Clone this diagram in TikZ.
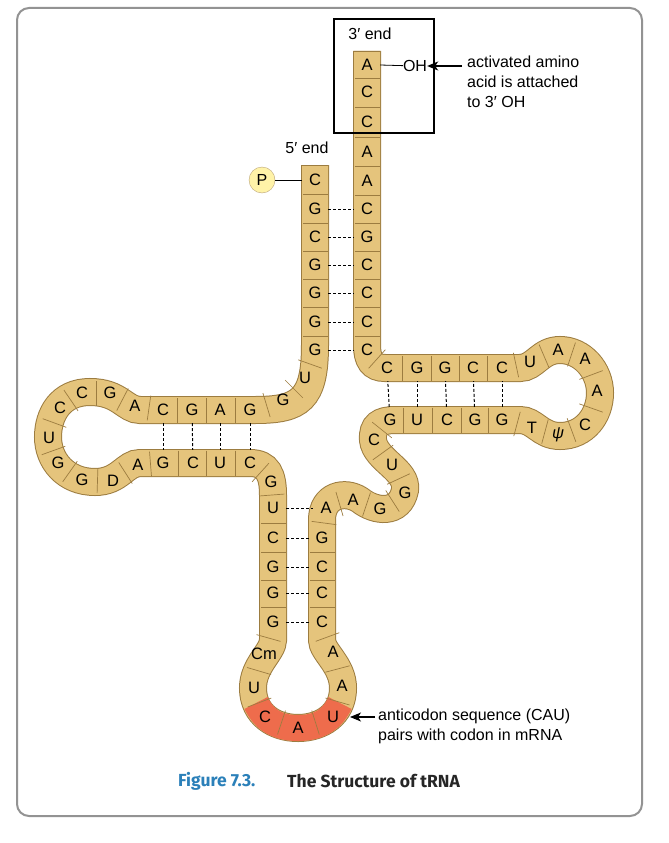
\documentclass[tikz,border=0pt]{standalone}
\usepackage{fontspec}
\setmainfont{Liberation Sans}
\newfontfamily\capfont{Fira Sans}
\usetikzlibrary{calc,arrows.meta}
\definecolor{tan}{HTML}{E5C47C}
\definecolor{tanedge}{HTML}{9C7C40}
\definecolor{anti}{HTML}{EE6C4C}
\definecolor{pfill}{HTML}{FFF3A8}
\definecolor{capblue}{HTML}{2B80B9}
\newcommand{\prm}{′}
\begin{document}
\begin{tikzpicture}[x=1pt,y=-1pt,
  base/.style={minimum size=26pt,inner sep=0pt,font=\fontsize{16.5}{16}\selectfont},
  sep/.style={draw=tanedge,line width=0.7pt},
  pair/.style={densely dashed,line width=1pt},
  arr/.style={-{Stealth[length=11pt,width=9pt,inset=3pt]},line width=1.2pt},
  lbl/.style={font=\fontsize{16}{20}\selectfont,inner sep=0pt}]
\useasboundingbox (0,0) rectangle (669,843);
\draw[gray!85,line width=2pt,rounded corners=12pt] (17,8) rectangle (642,816);
% ribbon
\def\rib{(315,165) -- (315,345) .. controls (315,400) and (300,410) .. (255,410) -- (140,410)
 .. controls (125,410) and (120,392) .. (90,392) .. controls (60,392) and (48,415) .. (48,437)
 .. controls (48,460) and (65,482) .. (95,482) .. controls (120,482) and (125,463) .. (140,463)
 -- (250,463) .. controls (268,463) and (273,475) .. (273,495) -- (273,640)
 .. controls (273,652) and (253,665) .. (253,688) .. controls (253,715) and (275,728) .. (298,728)
 .. controls (321,728) and (343,715) .. (343,688) .. controls (343,665) and (322,652) .. (322,640)
 -- (322,520) .. controls (322,495) and (345,490) .. (360,500) .. controls (375,512) and (400,515) .. (405,490)
 .. controls (408,470) and (375,460) .. (373,440) .. controls (372,425) and (380,420) .. (395,420)
 -- (520,420) .. controls (535,420) and (540,436) .. (560,436) .. controls (585,436) and (600,415) .. (600,393)
 .. controls (600,370) and (582,350) .. (560,350) .. controls (540,350) and (535,368) .. (520,368)
 -- (385,368) .. controls (372,368) and (367,360) .. (367,345) -- (367,51)}
\draw[tanedge,line width=28pt] \rib;
\draw[tan,line width=26pt] \rib;
\draw[anti,line width=26pt] (256,703) .. controls (265,722) and (280,728) .. (298,728) .. controls (316,728) and (331,722) .. (340,703);
\draw[sep] (302,165) -- (328,165);
\draw[sep] (354,51) -- (380,51);
% bases
\foreach \n/\p/\t in {
1/{315,180}/C,2/{315,209}/G,3/{315,237}/C,4/{315,265}/G,5/{315,293}/G,6/{315,322}/G,7/{315,350}/G,
8/{305,378}/U,9/{283,400}/G,10/{250,410}/G,11/{220,410}/A,12/{192,410}/G,13/{163,410}/C,14/{135,406}/A,
15/{110,393}/G,16/{82,393}/C,17/{60,408}/C,18/{49,438}/U,19/{58,463}/G,20/{82,480}/G,21/{113,481}/D,
22/{138,465}/A,23/{163,463}/G,24/{193,463}/C,25/{220,463}/U,26/{250,463}/C,27/{271,482}/G,
28/{273,508}/U,29/{273,538}/C,30/{273,567}/G,31/{273,593}/G,32/{273,622}/G,33/{264,654}/Cm,
34/{254,688}/U,35/{265,717}/C,36/{298,728}/A,37/{333,717}/U,38/{342,686}/A,39/{333,652}/A,
40/{322,622}/C,41/{322,593}/C,42/{322,567}/C,43/{322,538}/G,44/{326,508}/A,45/{353,500}/A,
46/{380,509}/G,47/{405,493}/G,48/{392,465}/U,49/{374,440}/C,50/{390,420}/G,51/{417,420}/U,
52/{447,420}/C,53/{475,420}/G,54/{502,420}/G,55/{532,428}/T,56/{558,435}/\textit{ψ},57/{585,425}/C,
58/{597,391}/A,59/{585,359}/A,60/{558,350}/A,61/{530,362}/U,62/{502,368}/C,63/{473,368}/C,
64/{445,368}/G,65/{417,368}/G,66/{387,368}/C,67/{367,350}/C,68/{367,322}/C,69/{367,293}/C,
70/{367,265}/C,71/{367,237}/G,72/{367,209}/C,73/{367,181}/A,74/{367,152}/A,75/{367,122}/C,
76/{367,92}/C,77/{367,65}/A}
  \node[base] (b\n) at (\p) {\t};
\foreach \i [evaluate=\i as \j using int(\i+1)] in {1,...,76}
  \draw[sep] ($(b\i)!0.5!(b\j)!12.5pt!90:(b\j)$) -- ($(b\i)!0.5!(b\j)!12.5pt!-90:(b\j)$);
% pairing
\foreach \a/\b in {2/72,3/71,4/70,5/69,6/68,7/67,10/26,11/25,12/24,13/23,28/44,29/43,30/42,31/41,32/40,50/66,51/65,52/64,53/63,54/62}
  \draw[pair] (b\a) -- (b\b);
% 5' end
\node[circle,draw=tanedge!70,fill=pfill,minimum size=26pt,inner sep=0pt,font=\fontsize{16}{16}\selectfont] (P) at (262,180) {P};
\draw[line width=0.8pt] (P) -- (b1);
\node[lbl] (five) at (307,148) {5\prm{} end};
% 3' end
\node[lbl] (three) at (370,34) {3\prm{} end};
\draw[line width=2.5pt] (334,19) rectangle (434,133);
\node[lbl] (OH) at (415,66) {OH};
\draw[line width=0.8pt] (b77.east) -- (OH);
\node[lbl,align=left,anchor=north west] (act) at (467,56) {activated amino\\acid is attached\\to 3\prm{} OH};
\draw[arr] (462,66) -- (OH);
% anticodon
\node[lbl,align=left,anchor=north west] (ac) at (378,709) {anticodon sequence (CAU)\\pairs with codon in mRNA};
\coordinate (acp) at (350,717);
\draw[arr] (375,717) -- (acp);
% caption
\node[anchor=west,font=\capfont\bfseries\fontsize{17.5}{18}\selectfont,text=capblue,inner sep=0pt] (fig) at (178,781) {Figure 7.3.};
\node[anchor=west,font=\capfont\bfseries\fontsize{17.5}{18}\selectfont,text=black!85,inner sep=0pt] (cap) at (287,781) {The Structure of tRNA};
\end{tikzpicture}
\end{document}
